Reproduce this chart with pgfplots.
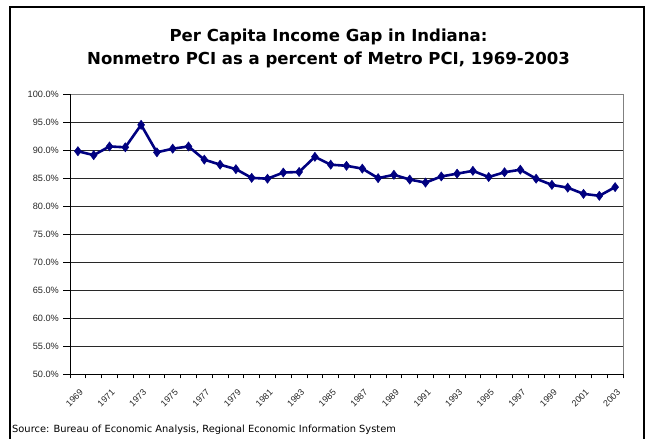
\documentclass[border=0pt]{standalone}
\usepackage{pgfplots}
\pgfplotsset{compat=1.18}
\usepackage{fontspec}
\setmainfont{Liberation Sans}
\newfontfamily\titlefont{DejaVu Sans}
\definecolor{navy}{RGB}{0,0,128}
\definecolor{gridc}{RGB}{40,40,40}
\begin{document}
\begin{tikzpicture}
\begin{scope}[x=1bp,y=1bp]
\path[use as bounding box] (0,0) rectangle (647,439);
\draw[line width=2bp] (10,-2) -- (10,432) -- (644,432) -- (644,-2);
\node[font=\titlefont\fontsize{16.6}{19}\selectfont\bfseries] at (328.5,402) {Per Capita Income Gap in Indiana:};
\node[font=\titlefont\fontsize{16.6}{19}\selectfont\bfseries] at (328.5,379) {Nonmetro PCI as a percent of Metro PCI, 1969-2003};
\node[anchor=west, font=\titlefont\fontsize{9.9}{11}\selectfont, inner sep=0pt] at (12,9) {Source: Bureau of Economic Analysis, Regional Economic Information System};
\end{scope}
\begin{axis}[
  at={(70bp,64.5bp)}, anchor=south west,
  scale only axis, width=553bp, height=280.5bp,
  xmin=1968.5, xmax=2003.5, ymin=50, ymax=100,
  ytick={50,55,...,100},
  xtick={1969,1971,...,2003},
  minor xtick={1968.5,1969.5,...,2003.5},
  major x tick style={draw=none},
  minor x tick style={black, line width=0.8bp},
  minor tick length=4bp,
  major tick length=7bp,
  tick align=outside,
  ytick pos=left, xtick pos=bottom,
  ymajorgrids, grid style={gridc, line width=0.8bp},
  y tick style={black, line width=0.8bp},
  axis line style={draw=none},
  /pgf/number format/assume math mode=true,
  yticklabel={\pgfmathprintnumber[fixed,fixed zerofill,precision=1]{\tick}\%},
  yticklabel style={font=\fontsize{9.2}{10}\selectfont, inner sep=0pt, xshift=-4bp, color=black!85},
  xticklabel={\pgfmathprintnumber[1000 sep={}]{\tick}},
  xticklabel style={font=\fontsize{9}{10}\selectfont, rotate=45, anchor=north east, inner sep=0pt, xshift=-4bp, yshift=-6bp, color=black!85},
  clip=false,
]
\draw[gray, line width=0.8bp] (axis cs:1968.5,100) -- (axis cs:2003.5,100) -- (axis cs:2003.5,50);
\draw[black, line width=1bp] (axis cs:1968.5,100) -- (axis cs:1968.5,50) -- (axis cs:2003.5,50);
\addplot[navy, line width=2.6bp, mark=diamond*, mark size=4.6bp, mark options={fill=navy, line width=0.5bp}] coordinates {
(1969,89.8) (1970,89.1) (1971,90.65) (1972,90.5) (1973,94.5) (1974,89.6) (1975,90.25) (1976,90.65)
(1977,88.3) (1978,87.4) (1979,86.6) (1980,85.05) (1981,84.9) (1982,86.0) (1983,86.1) (1984,88.8)
(1985,87.4) (1986,87.2) (1987,86.7) (1988,85.0) (1989,85.6) (1990,84.75) (1991,84.2) (1992,85.3)
(1993,85.8) (1994,86.3) (1995,85.2) (1996,86.05) (1997,86.5) (1998,84.9) (1999,83.8) (2000,83.3)
(2001,82.2) (2002,81.85) (2003,83.4)
};
\end{axis}
\end{tikzpicture}
\end{document}
